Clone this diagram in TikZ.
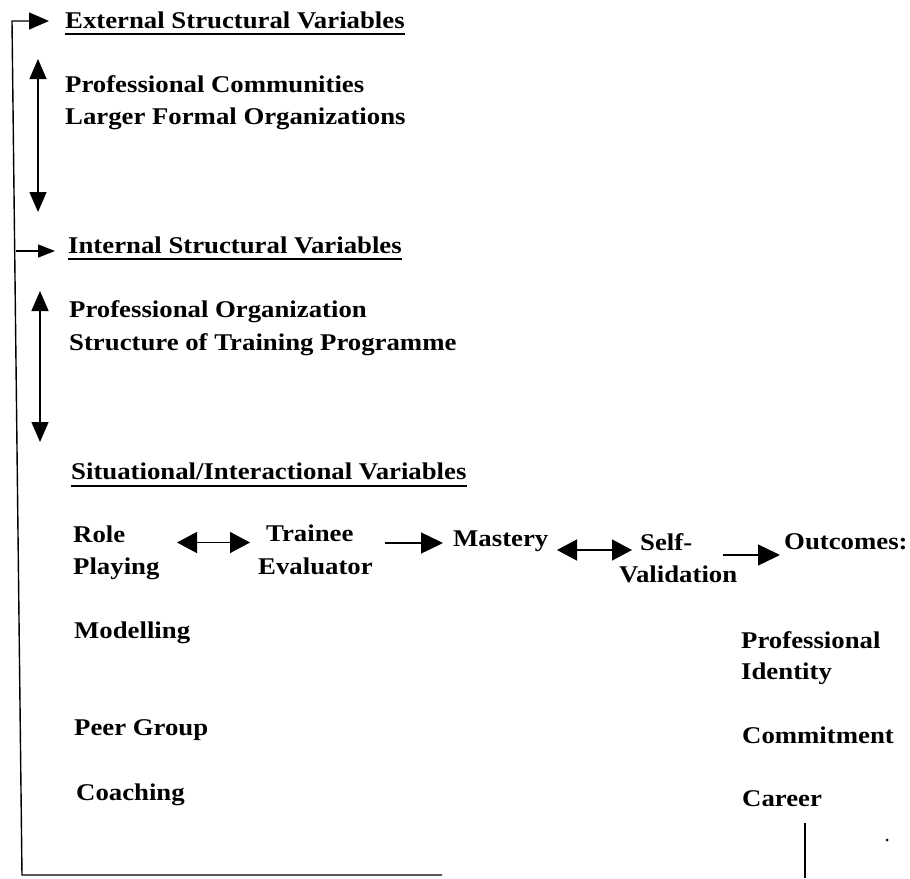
\documentclass[tikz,border=0pt]{standalone}
\usepackage{fontspec}
\setmainfont{Liberation Serif}[FakeStretch=1.115]
\usetikzlibrary{arrows.meta,calc}
\begin{document}
\begin{tikzpicture}[x=1pt,y=-1pt,
  lbl/.style={font=\fontsize{24}{32}\selectfont\bfseries, inner sep=0pt, anchor=base west, text height=16pt, text depth=5pt},
  ln/.style={line width=1.4pt},
  uline/.style={line width=1.8pt},
  arr/.style={ln, -{Triangle[length=20pt,width=17pt]}},
  sarr/.style={ln, -{Triangle[length=17pt,width=13pt]}},
  dbl/.style={ln, {Triangle[length=20pt,width=17pt]}-{Triangle[length=20pt,width=17pt]}},
  rarr/.style={ln, -{Triangle[length=22pt,width=21pt]}},
  rdbl/.style={ln, {Triangle[length=20pt,width=21pt]}-{Triangle[length=20pt,width=21pt]}}
]
\useasboundingbox (0,0) rectangle (910,878);

% headings and texts
\node[lbl] (ext) at (65,28) {External Structural Variables};
\node[lbl] (pc) at (65,92) {Professional Communities};
\node[lbl] (lfo) at (65,124) {Larger Formal Organizations};
\node[lbl] (int) at (68,253) {Internal Structural Variables};
\node[lbl] (po) at (69,317) {Professional Organization};
\node[lbl] (stp) at (69,350) {Structure of Training Programme};
\node[lbl] (sit) at (71,479) {Situational/Interactional Variables};

\node[lbl] (role) at (73,542) {Role};
\node[lbl] (rolep) at (73,574) {Playing};
\node[lbl] (trn) at (266,541) {Trainee};
\node[lbl] (eva) at (258,574) {Evaluator};
\node[lbl] (mas) at (453,546) {Mastery};
\node[lbl] (self) at (640,550) {Self-};
\node[lbl] (val) at (619,582) {Validation};
\node[lbl] (out) at (784,549) {Outcomes:};

\node[lbl] (mod) at (74,638) {Modelling};
\node[lbl] (prof) at (741,648) {Professional};
\node[lbl] (ident) at (741,679) {Identity};
\node[lbl] (peer) at (74,735) {Peer Group};
\node[lbl] (com) at (742,743) {Commitment};
\node[lbl] (coach) at (76,800) {Coaching};
\node[lbl] (car) at (742,806) {Career};

% underlines
\draw[uline] ([yshift=-6pt]ext.base west) -- ([yshift=-6pt]ext.base east);
\draw[uline] ([yshift=-6pt]int.base west) -- ([yshift=-6pt]int.base east);
\draw[uline] ([yshift=-7pt]sit.base west) -- ([yshift=-7pt]sit.base east);

% feedback loop on the left
\coordinate (cbr) at (442,875);
\coordinate (cbl) at (22,875);
\coordinate (ctl) at (12,21);
\draw[arr] (cbr) -- (cbl) -- (ctl) -- ($(ext.west)+(-16,-1.5)$);
\coordinate (istart) at (16,251);
\draw[sarr] (istart) -- ($(int.west)+(-13,3.5)$);

% vertical double arrows
\coordinate (a1t) at (38,59);
\coordinate (a1b) at (38,212);
\draw[dbl] (a1t) -- (a1b);
\coordinate (a2t) at (40,291);
\draw[dbl] (a2t) -- ($(sit.west)+(-31,-31.5)$);

% row arrows
\draw[rdbl] ($(role.west)+(104,6)$) -- ($(trn.west)+(-16,7)$);
\draw[rarr] ($(trn.west)+(119,7.5)$) -- ($(mas.west)+(-10,2.5)$);
\draw[rdbl] ($(mas.west)+(104,9.5)$) -- ($(self.west)+(-8,5.5)$);
\draw[rarr] ($(val.west)+(104,-21.5)$) -- ($(out.west)+(-4,11.5)$);

% right vertical line and dot
\coordinate (rv1) at (805,823);
\coordinate (rv2) at (805,878);
\draw[ln] (rv1) -- (rv2);
\fill (887,840) circle (1.5pt);
\end{tikzpicture}
\end{document}
